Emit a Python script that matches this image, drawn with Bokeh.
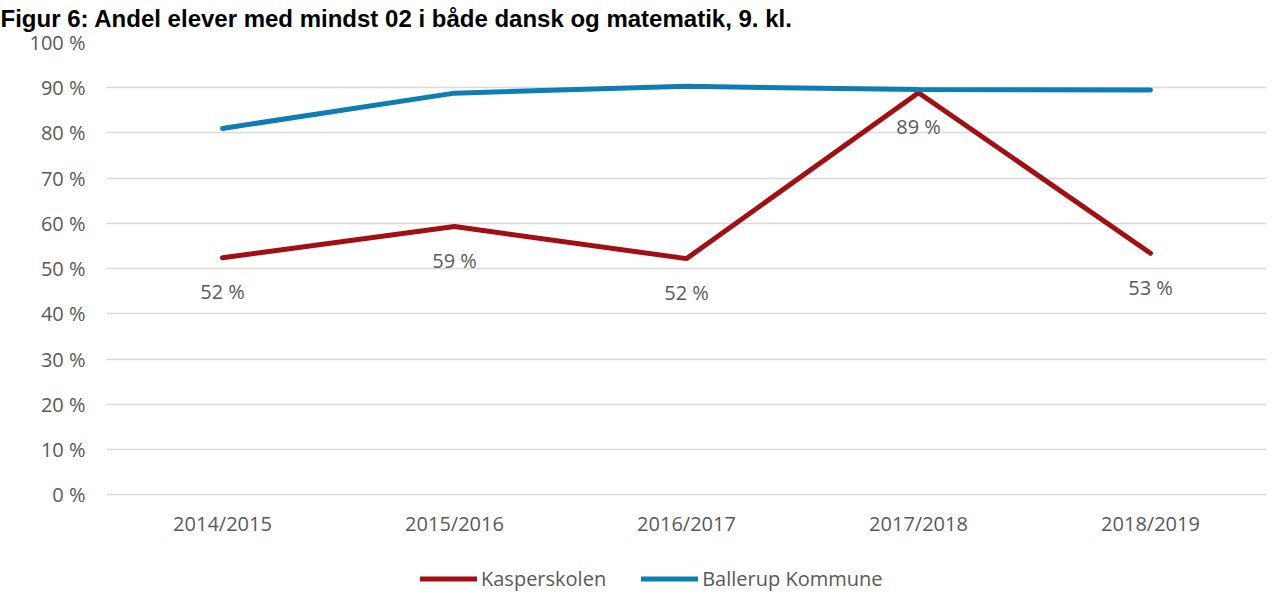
from bokeh.plotting import figure
from bokeh.models import (FactorRange, Range1d, FixedTicker, PrintfTickFormatter,
                          Legend, LegendItem, ColumnDataSource)
from bokeh.core.properties import value
from bokeh.embed import file_html
from bokeh.resources import INLINE

title_text = "Figur 6: Andel elever med mindst 02 i både dansk og matematik, 9. kl."
years = ["2014/2015", "2015/2016", "2016/2017", "2017/2018", "2018/2019"]
kasperskolen = [52.4, 59.3, 52.2, 88.9, 53.4]
ballerup = [81.0, 88.8, 90.3, 89.6, 89.5]
kasper_labels = ["52 %", "59 %", "52 %", "89 %", "53 %"]
y_ticks = [0, 10, 20, 30, 40, 50, 60, 70, 80, 90, 100]

RED = "#A10F14"
BLUE = "#0E7DB4"
GREY = "#595959"
FONT = "Open Sans"
FS = "20px"
Y_BOTTOM = -23.4   # frame extends below 0 % to hold the legend

p = figure(x_range=FactorRange(*years, range_padding=0), y_range=Range1d(Y_BOTTOM, 100),
           width=1290, height=608, output_backend="svg", toolbar_location=None,
           min_border_left=114, min_border_right=16, min_border_top=49,
           min_border_bottom=0)
p.margin = (-8, 0, 0, -8)
p.outline_line_color = None
p.background_fill_color = "white"
p.border_fill_color = "white"

p.title.text = title_text
p.title.text_font = "Liberation Sans"
p.title.text_font_style = "bold"
p.title.text_font_size = "24px"
p.title.text_color = "black"
p.title.align = "left"
p.title.offset = -106
p.title.standoff = 21

p.xgrid.grid_line_color = None
p.ygrid.grid_line_color = "#D9D9D9"
p.ygrid.grid_line_width = 1.3
p.ygrid.ticker = FixedTicker(ticks=y_ticks)

p.yaxis.ticker = FixedTicker(ticks=y_ticks)
p.yaxis.formatter = PrintfTickFormatter(format="%d %%")
for ax in (p.xaxis, p.yaxis):
    ax.axis_line_color = None
    ax.major_tick_line_color = None
    ax.minor_tick_line_color = None
    ax.major_label_text_font = FONT
    ax.major_label_text_font_size = FS
    ax.major_label_text_color = GREY
p.yaxis.major_label_standoff = 15
p.xaxis.major_label_standoff = 9
p.xaxis.fixed_location = 0

src = ColumnDataSource(dict(x=years, k=kasperskolen, b=ballerup, lab=kasper_labels))
rk = p.line("x", "k", source=src, line_color=RED, line_width=5, line_cap="round")
rb = p.line("x", "b", source=src, line_color=BLUE, line_width=5, line_cap="round")

p.text("x", "k", text="lab", source=src, y_offset=34, text_align="center",
       text_baseline="middle", text_font=value(FONT), text_font_size=FS,
       text_color=GREY)

legend = Legend(items=[LegendItem(label="Kasperskolen", renderers=[rk]),
                       LegendItem(label="Ballerup Kommune", renderers=[rb])],
                orientation="horizontal", location=(314, 8),
                glyph_width=57, glyph_height=27, label_height=27,
                label_standoff=4, spacing=35,
                padding=0, margin=0, border_line_color=None,
                background_fill_alpha=0,
                label_text_font=FONT, label_text_font_size=FS,
                label_text_color=GREY)
p.add_layout(legend, "center")

open("out.html", "w").write(file_html(p, INLINE))
